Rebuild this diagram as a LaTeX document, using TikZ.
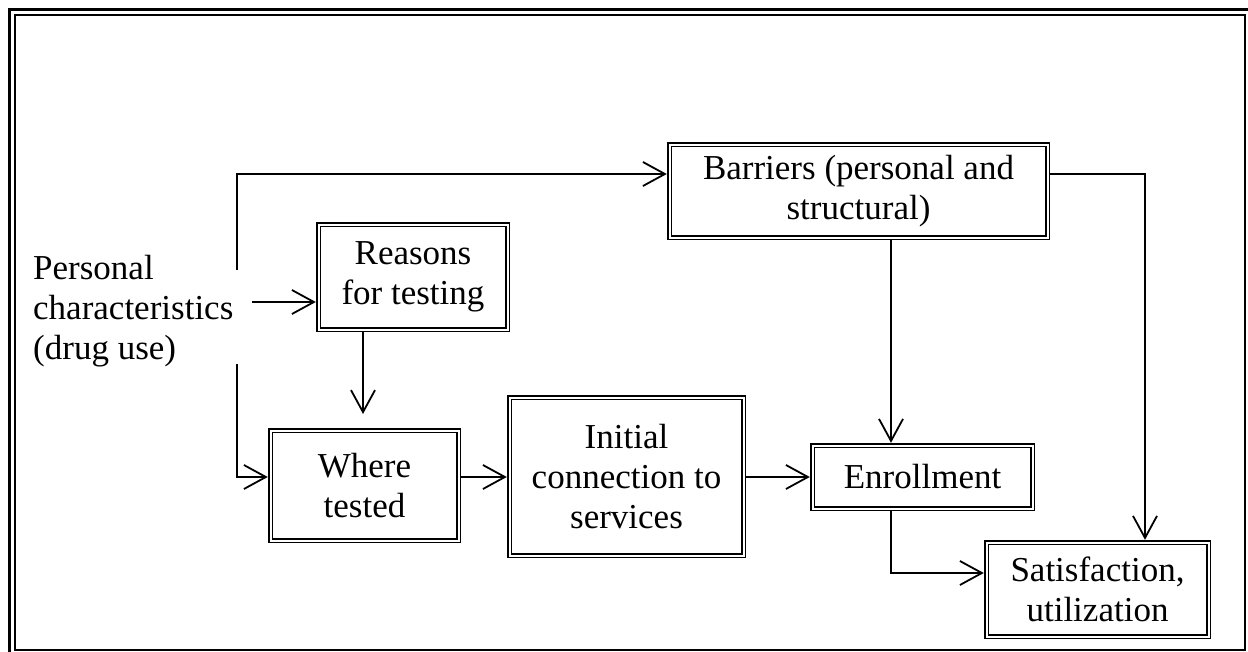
\documentclass[tikz,border=0pt]{standalone}
\usepackage{fontspec}
\setmainfont{Liberation Serif}
\usetikzlibrary{arrows.meta}
\begin{document}
\begin{tikzpicture}[x=1pt,y=-1pt,
  box/.style={draw, double, double distance=2pt, line width=1.7pt, align=center, inner sep=0pt, outer sep=2.7pt,
    font=\fontsize{35}{40}\selectfont},
  conn/.style={line width=1.8pt},
  arr/.style={conn, -{Straight Barb[length=22pt,width=24pt,line width=1.8pt]}},
  frame/.style={line width=2.6pt}]
\useasboundingbox (0,0) rectangle (1248,651);
\clip (0,0) rectangle (1248,651);
\draw[frame] (9.5,9.5) rectangle (1251,657);
\draw[frame] (15,15) rectangle (1245,650);

\node[anchor=west, align=left, inner sep=0pt, font=\fontsize{35}{40}\selectfont] (pc) at (33,311)
  {Personal\\characteristics\\(drug use)};

\node[box, minimum width=189pt, minimum height=105pt] (reas) at (413,277) {Reasons\\for testing};
\node[box, minimum width=378pt, minimum height=93pt] (barr) at (858.5,191) {Barriers (personal and\\structural)};
\node[box, minimum width=188pt, minimum height=110pt] (where) at (364.5,485.5) {Where\\tested};
\node[box, minimum width=234pt, minimum height=158pt] (init) at (626.5,476.5) {Initial\\connection to\\services};
\node[box, minimum width=220pt, minimum height=63pt] (enr) at (922.5,477) {Enrollment};
\node[box, minimum width=222pt, minimum height=94pt] (sat) at (1097.5,589.5) {Satisfaction,\\utilization};

\coordinate (s1) at (237,270);
\coordinate (s2) at (252,302);
\coordinate (s3) at (237,364);
\coordinate (rw) at (363,414);

\draw[arr] (s1) |- (barr.west |- 0,174);
\draw[arr] (s2) -- (reas.west |- 0,302);
\draw[arr] (s3) |- (where.west |- 0,477);
\draw[arr] (reas.south -| rw) -- (rw);
\draw[arr] (where.east |- 0,477) -- (init.west |- 0,477);
\draw[arr] (init.east |- enr.west) -- (enr.west);
\draw[arr] (barr.south -| 891,0) -- (enr.north -| 891,0);
\draw[arr] (barr.east |- 0,174) -| (sat.north -| 1145,0);
\draw[arr] (enr.south -| 891,0) |- (sat.west |- 0,573);
\end{tikzpicture}
\end{document}
